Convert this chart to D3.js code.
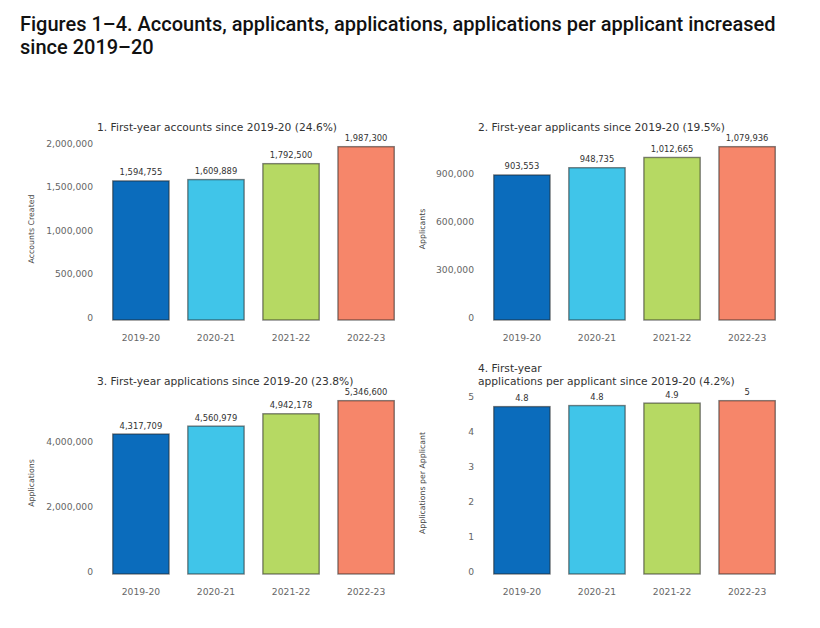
<!DOCTYPE html>
<html>
<head>
<meta charset="utf-8">
<script src="https://cdn.jsdelivr.net/npm/d3@7"></script>
<style>
  html, body { margin: 0; padding: 0; background: #fff; }
  svg { display: block; }
</style>
</head>
<body>
<svg id="chart" width="820" height="628"></svg>
<script>
// ---- data ----
const categories = ["2019-20", "2020-21", "2021-22", "2022-23"];
const accounts = [1594755, 1609889, 1792500, 1987300];
const applicants = [903553, 948735, 1012665, 1079936];
const applications = [4317709, 4560979, 4942178, 5346600];
const appsPerApplicant = [4.78, 4.81, 4.88, 4.95];

const ticksAccounts = [0, 500000, 1000000, 1500000, 2000000];
const ticksApplicants = [0, 300000, 600000, 900000];
const ticksApplications = [0, 2000000, 4000000];
const ticksPerApplicant = [0, 1, 2, 3, 4, 5];

const barColors = ["#0b6cbc", "#40c5e9", "#b6d963", "#f6866a"];

const panelTitles = [
  ["1. First-year accounts since 2019-20 (24.6%)"],
  ["2. First-year applicants since 2019-20 (19.5%)"],
  ["3. First-year applications since 2019-20 (23.8%)"],
  ["4. First-year", "applications per applicant since 2019-20 (4.2%)"]
];
const yTitles = ["Accounts Created", "Applicants", "Applications", "Applications per Applicant"];
const mainTitle = [
  "Figures 1\u20134. Accounts, applicants, applications, applications per applicant increased",
  "since 2019\u201320"
];

// ---- layout ----
const svg = d3.select("#chart");
const FONT = "DejaVu Sans, sans-serif";

svg.append("text")
  .attr("x", 20).attr("y", 31)
  .attr("font-family", "Roboto, sans-serif")
  .attr("font-weight", 500)
  .attr("font-size", 20)
  .attr("fill", "#111")
  .selectAll("tspan").data(mainTitle).join("tspan")
  .attr("x", 20).attr("dy", (d, i) => i === 0 ? 0 : 22.7)
  .text(d => d);

const panels = [
  { values: accounts, ticks: ticksAccounts, fmt: d3.format(","), x0: 97, yBottom: 320, yLabelX: 31 },
  { values: applicants, ticks: ticksApplicants, fmt: d3.format(","), x0: 478, yBottom: 320, yLabelX: 422 },
  { values: applications, ticks: ticksApplications, fmt: d3.format(","), x0: 97, yBottom: 574, yLabelX: 31 },
  { values: appsPerApplicant, ticks: ticksPerApplicant, fmt: v => String(+v.toFixed(1)), x0: 478, yBottom: 574, yLabelX: 422 }
];

const AX_W = 313, AX_H = 182;

panels.forEach((p, i) => {
  const g = svg.append("g");
  const x = d3.scaleBand().domain(categories)
    .range([p.x0, p.x0 + AX_W])
    .paddingInner(0.25).paddingOuter(0.21);
  const yMax = d3.max(p.values) * 1.05;
  const y = d3.scaleLinear().domain([0, yMax]).range([p.yBottom, p.yBottom - AX_H]);

  // y axis
  const yAx = g.append("g")
    .attr("transform", `translate(${p.x0},0)`)
    .call(d3.axisLeft(y).tickValues(p.ticks).tickSize(0).tickPadding(4)
      .tickFormat(i === 3 ? d3.format("d") : d3.format(",")));
  yAx.select(".domain").remove();
  yAx.selectAll("text")
    .attr("font-family", FONT).attr("font-size", 9.2).attr("fill", "#666")
    .attr("dy", "0.05em");

  // x axis
  const xAx = g.append("g")
    .attr("transform", `translate(0,${p.yBottom})`)
    .call(d3.axisBottom(x).tickSize(0).tickPadding(14));
  xAx.select(".domain").remove();
  xAx.selectAll("text")
    .attr("font-family", FONT).attr("font-size", 9.2).attr("fill", "#666");

  // bars
  g.selectAll("rect.bar").data(p.values).join("rect")
    .attr("class", "bar")
    .attr("x", (d, j) => x(categories[j]))
    .attr("width", x.bandwidth())
    .attr("y", d => y(d))
    .attr("height", d => y(0) - y(d))
    .attr("fill", (d, j) => barColors[j])
    .attr("stroke", "#222")
    .attr("stroke-opacity", 0.55)
    .attr("stroke-width", 1.4);

  // value labels
  g.selectAll("text.val").data(p.values).join("text")
    .attr("class", "val")
    .attr("x", (d, j) => x(categories[j]) + x.bandwidth() / 2)
    .attr("y", d => y(d) - 5.5)
    .attr("text-anchor", "middle")
    .attr("font-family", FONT).attr("font-size", 8.4).attr("fill", "#333")
    .text(d => p.fmt(d));

  // panel title
  const lines = panelTitles[i];
  const tBase = p.yBottom - AX_H - 7.5;
  g.append("text")
    .attr("font-family", FONT).attr("font-size", 10.7).attr("fill", "#333")
    .selectAll("tspan").data(lines).join("tspan")
    .attr("x", p.x0)
    .attr("y", (d, k) => tBase - (lines.length - 1 - k) * 12.4)
    .text(d => d);

  // y axis title
  const cy = p.yBottom - AX_H / 2;
  g.append("text")
    .attr("transform", `translate(${p.yLabelX},${cy}) rotate(-90)`)
    .attr("text-anchor", "middle")
    .attr("dy", "0.35em")
    .attr("font-family", FONT).attr("font-size", 7.8).attr("fill", "#444")
    .text(yTitles[i]);
});
</script>
</body>
</html>
